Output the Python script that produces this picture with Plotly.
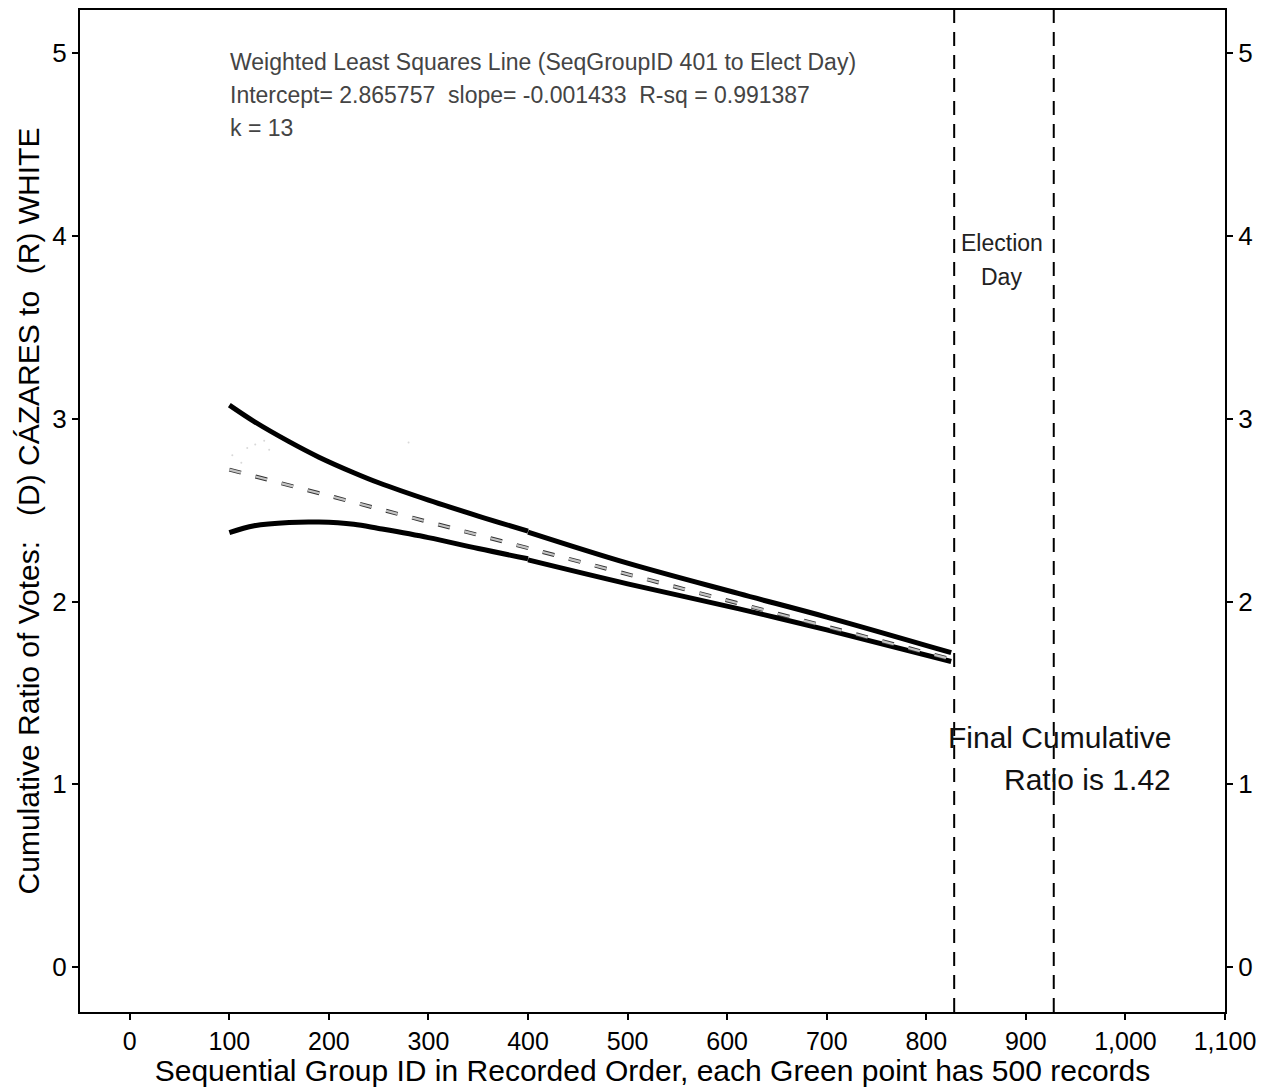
import plotly.graph_objects as go

# ---- data ----
fit_x = [100, 825]
fit_y = [2.722, 1.684]

upper_x1 = [100, 125, 160, 190, 225, 250, 300, 350, 400]
upper_y1 = [3.075, 2.985, 2.875, 2.79, 2.705, 2.65, 2.555, 2.468, 2.385]
upper_x2 = [400, 500, 612, 700, 825]
upper_y2 = [2.38, 2.21, 2.043, 1.915, 1.72]

lower_x1 = [100, 125, 160, 190, 225, 250, 300, 350, 400]
lower_y1 = [2.377, 2.415, 2.433, 2.435, 2.423, 2.40, 2.35, 2.29, 2.234]
lower_x2 = [400, 500, 612, 700, 825]
lower_y2 = [2.228, 2.097, 1.96, 1.845, 1.672]

faint_x = [103, 112, 118, 126, 135, 140, 280]
faint_y = [2.80, 2.76, 2.84, 2.86, 2.88, 2.83, 2.87]

election_bounds = [828, 928]

x_ticks = list(range(0, 1101, 100))
y_ticks = [0, 1, 2, 3, 4, 5]

notes = [
    "Weighted Least Squares Line (SeqGroupID 401 to Elect Day)",
    "Intercept= 2.865757\u00a0\u00a0slope= -0.001433\u00a0\u00a0R-sq = 0.991387",
    "k = 13",
]
note_y = [4.953, 4.773, 4.593]

FONT = "Liberation Sans, Arial, sans-serif"

fig = go.Figure()

fig.add_trace(go.Scatter(x=faint_x, y=faint_y, mode="markers",
                         marker=dict(size=2, color="#d8d8d8"), hoverinfo="skip"))

for xs, ys in [(upper_x1, upper_y1), (upper_x2, upper_y2),
               (lower_x1, lower_y1), (lower_x2, lower_y2)]:
    fig.add_trace(go.Scatter(x=xs, y=ys, mode="lines",
                             line=dict(color="black", width=5, shape="spline", smoothing=1.0)))

fig.add_trace(go.Scatter(x=fit_x, y=fit_y, mode="lines",
                         line=dict(color="#333", width=4, dash="12px,15px")))
fig.add_trace(go.Scatter(x=fit_x, y=fit_y, mode="lines",
                         line=dict(color="#c4c4c4", width=2.2, dash="12px,15px")))

# invisible trace to activate right axis
fig.add_trace(go.Scatter(x=[0], y=[0], yaxis="y2", mode="markers",
                         marker=dict(opacity=0), hoverinfo="skip"))

for xb in election_bounds:
    fig.add_shape(type="line", x0=xb, x1=xb, y0=0, y1=1, xref="x", yref="paper",
                  line=dict(color="black", width=2, dash="14px,9px"))

for t, yy in zip(notes, note_y):
    fig.add_annotation(x=98.5, y=yy, text=t, showarrow=False, xanchor="left",
                       yanchor="middle", font=dict(family=FONT, size=23, color="#444"))

fig.add_annotation(x=876, y=3.96, text="Election", showarrow=False,
                   font=dict(family=FONT, size=23, color="#222"))
fig.add_annotation(x=876, y=3.774, text="Day", showarrow=False,
                   font=dict(family=FONT, size=23, color="#222"))
fig.add_annotation(x=1048, y=1.256, text="Final Cumulative", showarrow=False,
                   xanchor="right", font=dict(family=FONT, size=30, color="#111"))
fig.add_annotation(x=1048, y=1.027, text="Ratio is 1.42", showarrow=False,
                   xanchor="right", font=dict(family=FONT, size=30, color="#111"))

axis_common = dict(showgrid=False, zeroline=False, showline=True, linecolor="black",
                   linewidth=2, ticks="outside", ticklen=6, tickwidth=2, tickcolor="black")

fig.update_layout(
    width=1260, height=1079,
    margin=dict(l=72, r=43, t=0, b=75),
    paper_bgcolor="white", plot_bgcolor="white",
    showlegend=False,
    font=dict(family=FONT, color="black"),
    xaxis=dict(range=[-50, 1100], tickvals=x_ticks, tickformat=",d",
               tickfont=dict(size=25),
               title=dict(text="Sequential Group ID in Recorded Order, each Green point has 500 records",
                          font=dict(size=30), standoff=0),
               mirror=True, **axis_common),
    yaxis=dict(range=[-0.246, 5.237], tickvals=y_ticks, tickfont=dict(size=26),
               title=dict(text="Cumulative Ratio of Votes:\u00a0\u00a0\u00a0(D) CÁZARES to\u00a0\u00a0(R) WHITE",
                          font=dict(size=30), standoff=4),
               **axis_common),
    yaxis2=dict(range=[-0.246, 5.237], tickvals=y_ticks, tickfont=dict(size=26),
                overlaying="y", side="right", **axis_common),
)

fig.write_html("out.html")
